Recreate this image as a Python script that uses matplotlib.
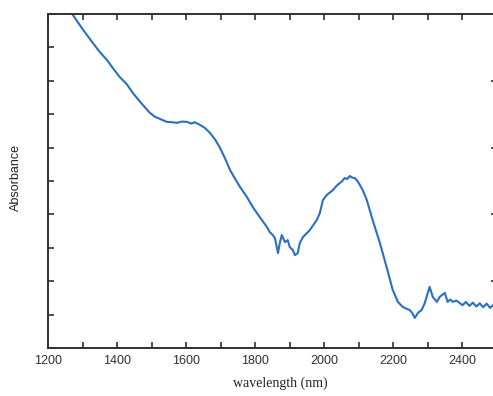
import numpy as np
import matplotlib
matplotlib.use("Agg")
import matplotlib.pyplot as plt

# Spectrum (absorbance in axis units, 0..1)
wavelength = [1262, 1272, 1300, 1330, 1350, 1371, 1390, 1408, 1428, 1446, 1470,
              1495, 1510, 1524, 1544, 1560, 1573, 1588, 1602, 1615, 1625, 1640,
              1654, 1669, 1684, 1698, 1712, 1727, 1742, 1756, 1776, 1793, 1813,
              1834, 1842, 1851, 1857, 1866, 1871, 1877, 1886, 1894, 1900, 1909,
              1915, 1923, 1929, 1938, 1958, 1978, 1987, 1996, 2007, 2025, 2035,
              2045, 2052, 2059, 2066, 2074, 2081, 2088, 2096, 2103, 2111, 2123,
              2140, 2161, 2181, 2198, 2213, 2227, 2237, 2247, 2255, 2262, 2271,
              2282, 2291, 2305, 2314, 2326, 2334, 2349, 2357, 2365, 2372, 2382,
              2392, 2400, 2410, 2420, 2430, 2440, 2450, 2460, 2470, 2480, 2490,
              2500]
absorbance = [1.02, 0.997, 0.955, 0.913, 0.886, 0.862, 0.835, 0.811, 0.790, 0.763,
              0.733, 0.704, 0.692, 0.686, 0.677, 0.676, 0.674, 0.678, 0.677, 0.672,
              0.676, 0.668, 0.659, 0.644, 0.624, 0.599, 0.569, 0.533, 0.506, 0.482,
              0.452, 0.422, 0.392, 0.362, 0.347, 0.338, 0.329, 0.284, 0.314, 0.338,
              0.317, 0.323, 0.302, 0.293, 0.278, 0.284, 0.314, 0.332, 0.353, 0.383,
              0.404, 0.443, 0.458, 0.473, 0.485, 0.494, 0.500, 0.509, 0.506, 0.515,
              0.510, 0.509, 0.500, 0.488, 0.473, 0.443, 0.383, 0.314, 0.240, 0.174,
              0.138, 0.123, 0.118, 0.114, 0.104, 0.090, 0.105, 0.114, 0.135, 0.183,
              0.153, 0.138, 0.153, 0.165, 0.138, 0.145, 0.138, 0.142, 0.135, 0.128,
              0.138, 0.126, 0.136, 0.124, 0.134, 0.122, 0.133, 0.120, 0.130, 0.120]

x_ticks = np.arange(1200, 2501, 100)
x_labels = ["1200", "", "1400", "", "1600", "", "1800", "", "2000", "", "2200", "", "2400", ""]
y_ticks_left = np.arange(0, 1.01, 0.1)
y_ticks_right = [0.2, 0.4, 0.6, 0.8]

W, H = 493, 396
fig = plt.figure(figsize=(W / 100, H / 100), dpi=100)
ax = fig.add_axes([48 / W, 1 - 348 / H, (497 - 48) / W, (348 - 14) / H])

ax.plot(wavelength, absorbance, color="#2a6fc4", lw=1.5)
ax.set_xlim(1200, 2500)
ax.set_ylim(0, 1)

for side in ax.spines.values():
    side.set_linewidth(1.4)
    side.set_color("#303030")

ax.set_xticks(x_ticks)
ax.set_xticklabels(x_labels, fontfamily="Liberation Sans", fontsize=9)
ax.set_yticks(y_ticks_left)
ax.set_yticklabels([])
ax.tick_params(axis="x", direction="in", length=4, width=1.2, top=True, pad=5, colors="#303030")
ax.tick_params(axis="y", direction="in", length=4, width=1.2, colors="#303030")

ax2 = ax.twinx()
ax2.set_ylim(0, 1)
ax2.set_yticks(y_ticks_right)
ax2.set_yticklabels([])
ax2.tick_params(axis="y", direction="in", length=4, width=1.2, colors="#303030")
for side in ax2.spines.values():
    side.set_visible(False)

fig.text(280 / W, 1 - 383 / H, "wavelength (nm)", ha="center", va="center",
         fontfamily="Liberation Serif", fontsize=10, color="#222222")
fig.text(16 / W, 1 - 177 / H, "Absorbance", rotation=90, ha="center", va="center",
         fontfamily="Liberation Sans", fontsize=9, color="#222222")

fig.savefig("out.png", dpi=100)
